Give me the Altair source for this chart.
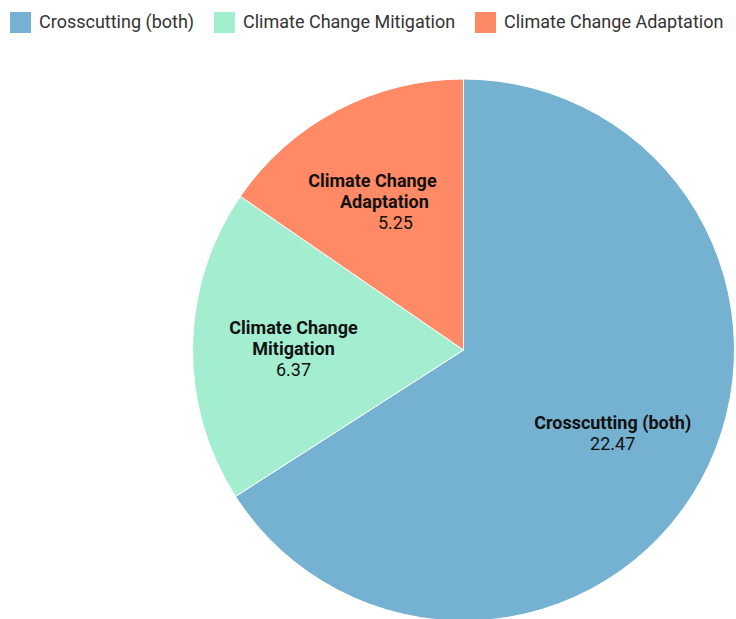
import altair as alt
import pandas as pd

# Funding split by climate objective
categories = ["Crosscutting (both)", "Climate Change Mitigation", "Climate Change Adaptation"]
values = [22.47, 6.37, 5.25]
colors = ["#75B1D0", "#A3EED0", "#FF8A65"]
name_lines = [["Crosscutting (both)"], ["Climate Change", "Mitigation"], ["Climate Change", "Adaptation"]]

df = pd.DataFrame({
    "category": categories,
    "value": values,
    "rank": list(range(len(categories))),
    "value_text": [f"{v:.2f}" for v in values],
})

CX, CY, R, LABEL_R = 463.5, 350, 271, 170
LINE_H = 21
LABEL_SHIFT = 3
FONT = "Roboto"

color_scale = alt.Scale(domain=categories, range=colors)

base = alt.Chart(df).encode(x=alt.value(CX), y=alt.value(CY))

pie = base.mark_arc(radius=R, stroke="white", strokeWidth=1).encode(
    theta=alt.Theta("value:Q", stack=True),
    order=alt.Order("rank:Q"),
    color=alt.Color(
        "category:N",
        scale=color_scale,
        legend=alt.Legend(
            title=None,
            orient="none",
            legendX=10,
            legendY=12,
            direction="horizontal",
            symbolType="square",
            symbolSize=441,
            symbolStrokeWidth=0,
            symbolOpacity=1,
            labelFont=FONT,
            labelFontSize=18,
            labelColor="#333333",
            labelOffset=8,
            columnPadding=19,
            labelLimit=400,
        ),
    ),
)

# Label anchors sit at the middle angle of each slice
mid = base.transform_window(
    cum="sum(value)", sort=[alt.SortField("rank")], frame=[None, 0]
).transform_calculate(mid="datum.cum - datum.value / 2")

# small horizontal shifts per line of the adaptation label
line_dx = {"Climate Change Adaptation": [-12, 0, 11]}

layers = [pie]
for cat, lines in zip(categories, name_lines):
    n = len(lines) + 1
    shifts = line_dx.get(cat, [0] * n)
    sel = mid.transform_filter(alt.datum.category == cat)
    for i, line in enumerate(lines):
        layers.append(
            sel.mark_text(
                radius=LABEL_R, font=FONT, fontSize=18, fontWeight="bold",
                color="#111111", baseline="middle", align="center",
                dy=(i - (n - 1) / 2) * LINE_H + LABEL_SHIFT, dx=shifts[i],
            ).encode(theta=alt.Theta("mid:Q", stack=False), text=alt.value(line))
        )
    layers.append(
        sel.mark_text(
            radius=LABEL_R, font=FONT, fontSize=18, fontWeight="normal",
            color="#111111", baseline="middle", align="center",
            dy=((n - 1) - (n - 1) / 2) * LINE_H + LABEL_SHIFT, dx=shifts[n - 1],
        ).encode(theta=alt.Theta("mid:Q", stack=False), text="value_text:N")
    )

chart = alt.layer(*layers).properties(
    width=736, height=619, padding=0, autosize=alt.AutoSizeParams(type="none")
).configure_view(stroke=None)

chart.save("out.html", embed_options={"renderer": "svg", "actions": False})
